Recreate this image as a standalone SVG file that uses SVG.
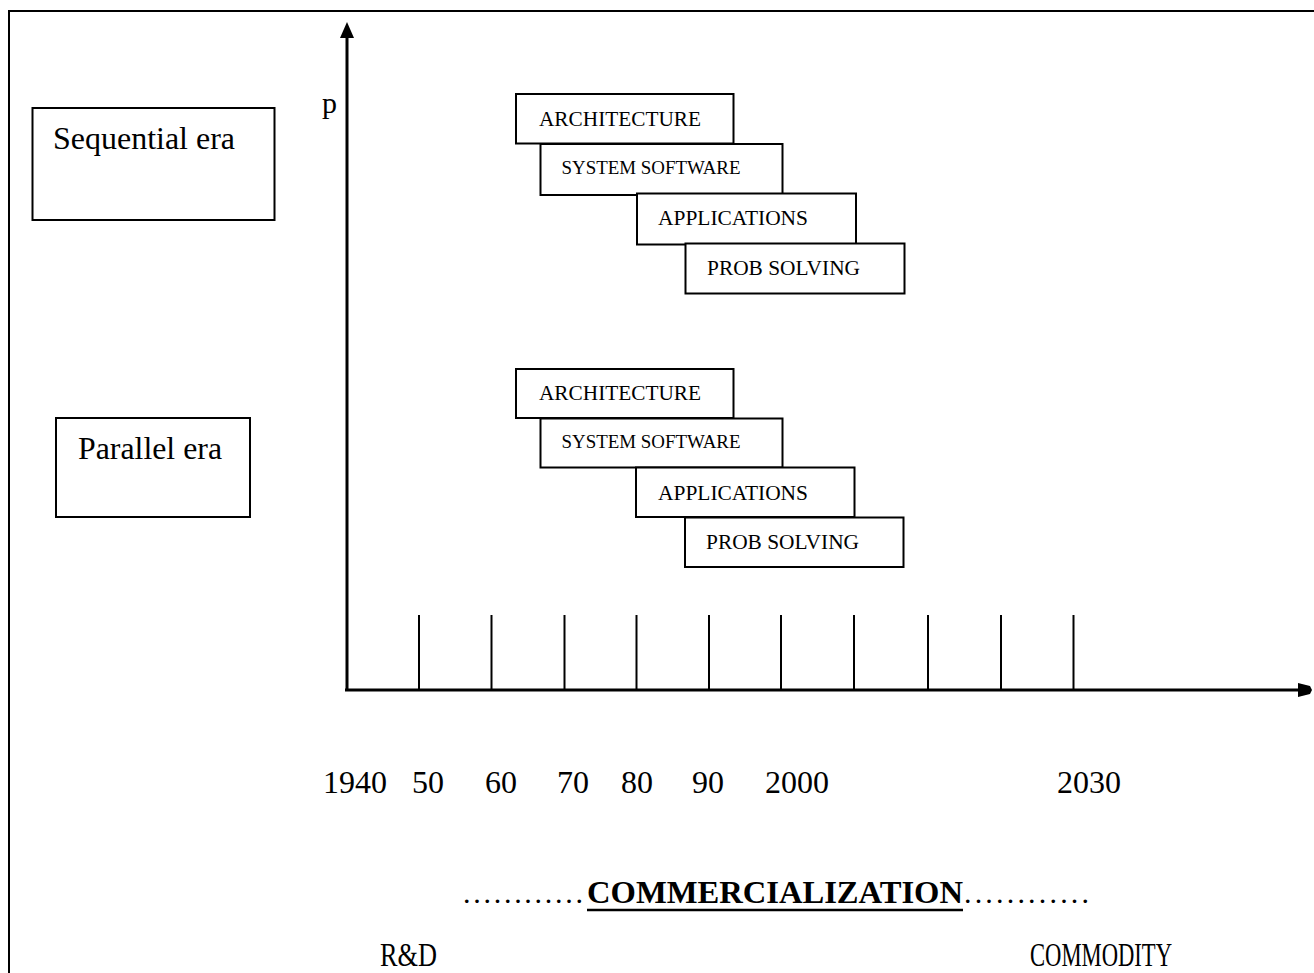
<svg xmlns="http://www.w3.org/2000/svg" width="1314" height="973" viewBox="0 0 1314 973">
  <style>
    text { font-family: "Liberation Serif", "Times New Roman", serif; fill: #000; }
    .box { fill: #fff; stroke: #000; stroke-width: 2; }
    .era { font-size: 32px; }
    .lbl { font-size: 21px; }
    .lbl-sm { font-size: 19px; }
    .yr { font-size: 32px; }
    .axis { stroke: #000; stroke-width: 3; fill: none; }
    .tick { stroke: #000; stroke-width: 2; }
    .frame { stroke: #000; stroke-width: 2; fill: none; }
    .foot { font-size: 30px; }
    .foot-lg { font-size: 33px; }
    .bold { font-size: 32px; font-weight: bold; }
  </style>

  <rect width="1314" height="973" fill="#fff"/>

  <!-- outer frame -->
  <path class="frame" d="M9,973 L9,11 L1314,11"/>

  <!-- axes and ticks -->
  <g id="connectors">
    <line class="axis" x1="347" y1="690" x2="347" y2="38" stroke-width="2.5"/>
    <path d="M340,38 L347,22 L354,38 Z" fill="#000"/>
    <line class="axis" x1="345" y1="690" x2="1299" y2="690"/>
    <path d="M1298,683 L1310,686 L1312,690 L1310,694 L1298,697 Z" fill="#000"/>
    <g id="ticks">
      <line class="tick" x1="419" y1="615" x2="419" y2="690"/>
      <line class="tick" x1="491.5" y1="615" x2="491.5" y2="690"/>
      <line class="tick" x1="564.5" y1="615" x2="564.5" y2="690"/>
      <line class="tick" x1="636.5" y1="615" x2="636.5" y2="690"/>
      <line class="tick" x1="709" y1="615" x2="709" y2="690"/>
      <line class="tick" x1="781" y1="615" x2="781" y2="690"/>
      <line class="tick" x1="854" y1="615" x2="854" y2="690"/>
      <line class="tick" x1="928" y1="615" x2="928" y2="690"/>
      <line class="tick" x1="1001" y1="615" x2="1001" y2="690"/>
      <line class="tick" x1="1073.5" y1="615" x2="1073.5" y2="690"/>
    </g>
  </g>

  <text id="axis-p" x="322" y="113" class="era" style="font-size:30px">p</text>

  <!-- era boxes -->
  <g id="sequential-era">
    <rect class="box" x="32.5" y="108" width="242" height="112"/>
    <text class="era" x="53" y="149" textLength="182" lengthAdjust="spacingAndGlyphs">Sequential era</text>
  </g>
  <g id="parallel-era">
    <rect class="box" x="56" y="418" width="194" height="99"/>
    <text class="era" x="78" y="459" textLength="144" lengthAdjust="spacingAndGlyphs">Parallel era</text>
  </g>

  <!-- sequential-era stack -->
  <g id="seq-architecture">
    <rect class="box" x="516" y="94" width="217.5" height="49.5"/>
    <text class="lbl" x="539" y="126" textLength="162" lengthAdjust="spacingAndGlyphs">ARCHITECTURE</text>
  </g>
  <g id="seq-system-software">
    <rect class="box" x="540.5" y="144" width="242" height="51"/>
    <text class="lbl-sm" x="561.5" y="174" textLength="179" lengthAdjust="spacingAndGlyphs">SYSTEM SOFTWARE</text>
  </g>
  <g id="seq-applications">
    <rect class="box" x="637" y="193.5" width="219" height="51"/>
    <text class="lbl" x="658" y="225" textLength="150" lengthAdjust="spacingAndGlyphs">APPLICATIONS</text>
  </g>
  <g id="seq-prob-solving">
    <rect class="box" x="685.5" y="243.5" width="219" height="50"/>
    <text class="lbl" x="707" y="275" textLength="153" lengthAdjust="spacingAndGlyphs">PROB SOLVING</text>
  </g>

  <!-- parallel-era stack -->
  <g id="par-architecture">
    <rect class="box" x="516" y="369" width="217.5" height="49"/>
    <text class="lbl" x="539" y="400" textLength="162" lengthAdjust="spacingAndGlyphs">ARCHITECTURE</text>
  </g>
  <g id="par-system-software">
    <rect class="box" x="540.5" y="418.5" width="242" height="49"/>
    <text class="lbl-sm" x="561.5" y="447.5" textLength="179" lengthAdjust="spacingAndGlyphs">SYSTEM SOFTWARE</text>
  </g>
  <g id="par-applications">
    <rect class="box" x="636" y="467.5" width="218.5" height="49.5"/>
    <text class="lbl" x="658" y="500" textLength="150" lengthAdjust="spacingAndGlyphs">APPLICATIONS</text>
  </g>
  <g id="par-prob-solving">
    <rect class="box" x="685" y="517.5" width="218.5" height="49.5"/>
    <text class="lbl" x="706" y="548.5" textLength="153" lengthAdjust="spacingAndGlyphs">PROB SOLVING</text>
  </g>

  <!-- year labels -->
  <g id="years">
    <text class="yr" x="323" y="793">1940</text>
    <text class="yr" x="412" y="793">50</text>
    <text class="yr" x="485" y="793">60</text>
    <text class="yr" x="557" y="793">70</text>
    <text class="yr" x="621" y="793">80</text>
    <text class="yr" x="692" y="793">90</text>
    <text class="yr" x="765" y="793">2000</text>
    <text class="yr" x="1057" y="793">2030</text>
  </g>

  <!-- commercialization banner -->
  <g id="commercialization">
    <text class="foot" x="463" y="903" textLength="120" lengthAdjust="spacing">............</text>
    <text class="bold" x="587" y="903" textLength="376" lengthAdjust="spacingAndGlyphs">COMMERCIALIZATION</text>
    <line x1="587" y1="910" x2="963" y2="910" stroke="#000" stroke-width="2.5"/>
    <text class="foot" x="964" y="903" textLength="125" lengthAdjust="spacing">............</text>
  </g>

  <text id="rnd" class="foot-lg" x="380" y="966" textLength="57" lengthAdjust="spacingAndGlyphs">R&amp;D</text>
  <text id="commodity" class="foot-lg" x="1030" y="966" textLength="142" lengthAdjust="spacingAndGlyphs">COMMODITY</text>
</svg>
